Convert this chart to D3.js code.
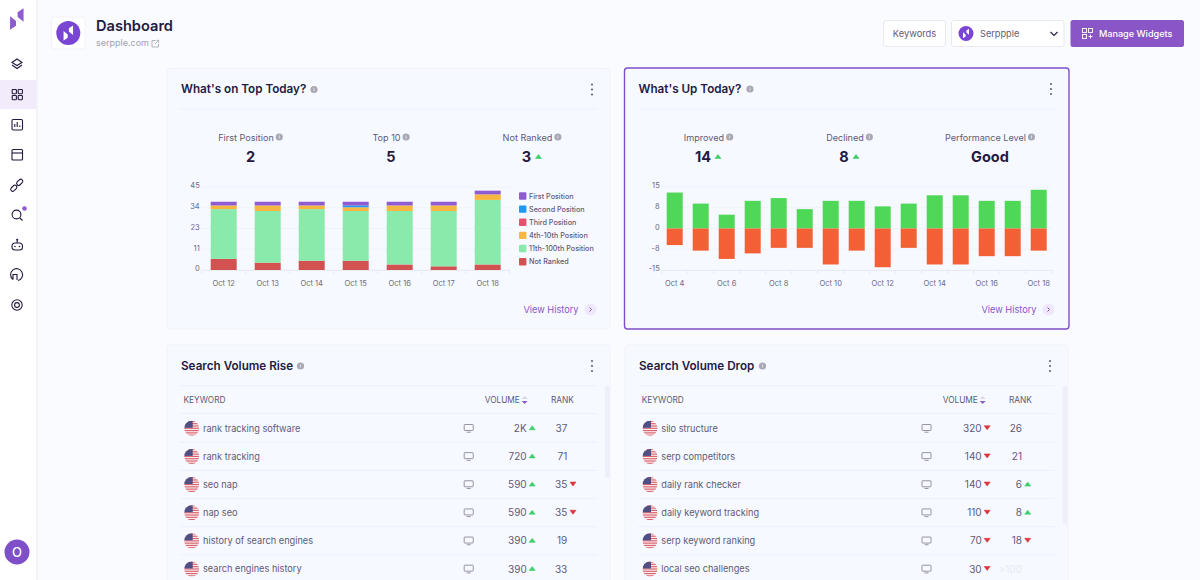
<!DOCTYPE html>
<html>
<head>
<meta charset="utf-8">
<script src="https://cdn.jsdelivr.net/npm/d3@7/dist/d3.min.js"></script>
<style>
html,body{margin:0;padding:0;background:#fafbff;overflow:hidden}
text{font-family:Inter,"Noto Sans",sans-serif}
</style>
</head>
<body>
<svg id="page" width="1200" height="580"></svg>
<script>
// chart data
var topDays=["Oct 12","Oct 13","Oct 14","Oct 15","Oct 16","Oct 17","Oct 18"];
var topTicks=[0,11.25,22.5,33.75,45];
var topTickLabels=["0","11","23","34","45"];
var topSeriesNames=["First Position","Second Position","Third Position","4th-10th Position","11th-100th Position","Not Ranked"];
var topColors=["#8e5bd0","#2196f3","#e8506e","#f7b63f","#8aeaac","#d25252"];
var firstPosition=[2,2,2,2,2,2,2];
var secondPosition=[0,0,0,1,0,0,0];
var thirdPosition=[0,0,0,0,0,0,0];
var fourthToTenth=[2,3,2,2,3,3,3];
var eleventhToHundredth=[27,28,28,27,29,30,35];
var notRanked=[6,4,5,5,3,2,3];

var upDays=["Oct 4","Oct 5","Oct 6","Oct 7","Oct 8","Oct 9","Oct 10","Oct 11","Oct 12","Oct 13","Oct 14","Oct 15","Oct 16","Oct 17","Oct 18"];
var upTicks=[-15,-7.5,0,7.5,15];
var upTickLabels=["-15","-8","0","8","15"];
var improved=[13,9,5,10,11,7,10,10,8,9,12,12,10,10,14];
var declined=[-6,-8,-11,-9,-7,-7,-13,-8,-14,-7,-13,-13,-10,-10,-8];

var topStats=[["First Position","2",""],["Top 10","5",""],["Not Ranked","3","up"]];
var upStats=[["Improved","14","up"],["Declined","8","up"],["Performance Level","Good",""]];

var riseKeywords=["rank tracking software","rank tracking","seo nap","nap seo","history of search engines","search engines history"];
var riseVolume=["2K","720","590","590","390","390"];
var riseVolumeDir=["up","up","up","up","up","up"];
var riseRank=["37","71","35","35","19","33"];
var riseRankDir=["","","down","down","",""];

var dropKeywords=["silo structure","serp competitors","daily rank checker","daily keyword tracking","serp keyword ranking","local seo challenges"];
var dropVolume=["320","140","140","110","70","30"];
var dropVolumeDir=["down","down","down","down","down","down"];
var dropRank=["26","21","6","8","18",">100"];
var dropRankDir=["","","up","up","down",""];

var dark="#25193f", body="#5f5a75", tickCol="#6d6980", purple="#8a55c7", lineCol="#eef1f8";
var svg=d3.select("#page");
var defs=svg.append("defs");

function label(g,x,y,str,size,col,weight,anchor){
    return g.append("text").attr("x",x).attr("y",y).text(str)
        .attr("font-size",size).attr("fill",col)
        .attr("font-weight",weight||400).attr("text-anchor",anchor||"start");
}
function tri(g,x,y,dir){
    var col=dir=="up"?"#3ecf6a":"#d9363e";
    var p=dir=="up"?[[x-3,y+2],[x+3,y+2],[x,y-2]]:[[x-3,y-2],[x+3,y-2],[x,y+2]];
    g.append("path").attr("d",d3.line()(p)+"Z").attr("fill",col).attr("stroke",col).attr("stroke-width",.6).attr("stroke-linejoin","round");
}
function info(g,x,y){
    g.append("circle").attr("cx",x).attr("cy",y).attr("r",3.6).attr("fill","#aaa9b3");
    g.append("rect").attr("x",x-.4).attr("y",y-1.6).attr("width",.8).attr("height",3.2).attr("fill","#e8e8ee");
}
function logoMark(g,cx,cy,s,col){
    g.append("path").attr("d","M"+(cx-5*s)+","+(cy-2*s)+"L"+(cx-.6*s)+","+(cy+1.5*s)+"L"+(cx-.6*s)+","+(cy+5*s)+"L"+(cx-5*s)+","+(cy+8*s)+"Z").attr("fill",col);
    g.append("path").attr("d","M"+(cx+5*s)+","+(cy+2*s)+"L"+(cx+.6*s)+","+(cy-1.5*s)+"L"+(cx+.6*s)+","+(cy-5*s)+"L"+(cx+5*s)+","+(cy-8*s)+"Z").attr("fill",col);
}

// sidebar
var side=svg.append("g");
side.append("rect").attr("width",36).attr("height",580).attr("fill","#fff");
side.append("rect").attr("x",36).attr("width",1.5).attr("height",580).attr("fill","#f0f2f8");
side.append("rect").attr("y",80).attr("width",36).attr("height",29).attr("fill","#f2ebfb");
logoMark(side,16.8,19,1.35,"#8e5bd0");
var ic=side.append("g").attr("fill","none").attr("stroke",dark).attr("stroke-width",1.1);
ic.append("path").attr("d","M17,59L22,62.5L17,65.5L12,62.5ZM12,65L17,68.5L22,65");
[[12.2,89.5],[18.2,89.5],[12.2,95.5],[18.2,95.5]].forEach(function(p){
    ic.append("rect").attr("x",p[0]).attr("y",p[1]).attr("width",4.2).attr("height",4.2).attr("rx",.6);
});
ic.append("rect").attr("x",12).attr("y",119.5).attr("width",10.5).attr("height",10.5).attr("rx",1.2);
ic.append("path").attr("d","M14.8,127V124M17.2,127V122M19.8,127V125.5");
ic.append("rect").attr("x",12).attr("y",149.5).attr("width",10.5).attr("height",10.5).attr("rx",1);
ic.append("path").attr("d","M12,153H22.5");
// link icon: two pills turned 45 degrees
ic.append("rect").attr("x",-5.5).attr("y",-2).attr("width",7).attr("height",4).attr("rx",2).attr("transform","translate(15.2,186.8) rotate(-45)");
ic.append("rect").attr("x",-1.5).attr("y",-2).attr("width",7).attr("height",4).attr("rx",2).attr("transform","translate(18.3,183.7) rotate(-45)");
ic.append("circle").attr("cx",16.5).attr("cy",214.5).attr("r",4.4);
ic.append("path").attr("d","M19.8,218L22.5,220.5");
side.append("circle").attr("cx",24.5).attr("cy",208.5).attr("r",2.3).attr("fill","#8e5bd0");
// robot
ic.append("rect").attr("x",12).attr("y",243).attr("width",10.5).attr("height",7).attr("rx",3.3);
ic.append("path").attr("d","M17.2,243V240.5");
side.append("circle").attr("cx",17.2).attr("cy",239.8).attr("r",1.1).attr("fill",dark);
side.append("circle").attr("cx",15).attr("cy",246.5).attr("r",.8).attr("fill",dark);
side.append("circle").attr("cx",19.5).attr("cy",246.5).attr("r",.8).attr("fill",dark);
ic.append("path").attr("d","M13,279.5A6,6 0 1 1 18,280.5M13,279.5V274.5H17V280");
ic.append("circle").attr("cx",17).attr("cy",305).attr("r",5.2);
ic.append("circle").attr("cx",17).attr("cy",305).attr("r",2.4);
side.append("circle").attr("cx",17).attr("cy",552).attr("r",12.5).attr("fill","#7f4fc9");
label(side,17,557,"O",13,"#fff",500,"middle");

// header
var head=svg.append("g");
head.append("rect").attr("x",51.5).attr("y",17).attr("width",33.5).attr("height",32).attr("rx",3).attr("fill","#fff").attr("stroke","#f1f2f8");
head.append("circle").attr("cx",68.3).attr("cy",33).attr("r",12).attr("fill","#7b45d3");
logoMark(head,68.3,33,.95,"#fff");
label(head,96,31,"Dashboard",14.6,dark,600);
label(head,96,46,"serpple.com",9,"#a2a2ae");
head.append("path").attr("d","M155.5,40.5H152V47H158.5V43.5M155,44L158.5,40.5M156.5,40.3H158.7V42.5").attr("fill","none").attr("stroke","#a2a2ae").attr("stroke-width",.8);
head.append("rect").attr("x",883.5).attr("y",20.5).attr("width",62).attr("height",26).attr("rx",2.5).attr("fill","#fff").attr("stroke","#e8e9f0");
label(head,914.5,36.5,"Keywords",9.3,body,400,"middle");
head.append("rect").attr("x",951.5).attr("y",20.5).attr("width",112.5).attr("height",26).attr("rx",2.5).attr("fill","#fff").attr("stroke","#e8e9f0");
head.append("circle").attr("cx",966).attr("cy",33.5).attr("r",7.5).attr("fill","#7b45d3");
logoMark(head,966,33.5,.6,"#fff");
label(head,980,36.5,"Serppple",9.2,body);
head.append("path").attr("d","M1050.5,32L1054,35.5L1057.5,32").attr("fill","none").attr("stroke",dark).attr("stroke-width",1.1);
head.append("rect").attr("x",1070.5).attr("y",20).attr("width",113.5).attr("height",27).attr("rx",2.5).attr("fill",purple);
var mw=head.append("g").attr("fill","none").attr("stroke","#fff").attr("stroke-width",.9);
[[1082.5,28.5],[1088.5,28.5],[1082.5,34.5]].forEach(function(p){
    mw.append("rect").attr("x",p[0]).attr("y",p[1]).attr("width",4).attr("height",4);
});
mw.append("path").attr("d","M1090.5,34.5V38.5M1088.5,36.5H1092.5");
label(head,1099,36.5,"Manage Widgets",9.1,"#fff",500);

function card(x,y,w,h,title,infoX,selected){
    var g=svg.append("g");
    g.append("rect").attr("x",x).attr("y",y).attr("width",w).attr("height",h).attr("rx",3)
        .attr("fill","#f6f9ff").attr("stroke",selected?"#7f4fc9":"#f1f3fa").attr("stroke-width",selected?1.4:1);
    label(g,x+14,y+24.5,title,11.7,dark,600);
    info(g,infoX,y+21);
    [-5,0,5].forEach(function(d){
        g.append("circle").attr("cx",x+w-18).attr("cy",y+21+d).attr("r",1.1).attr("fill","#6a6578");
    });
    return g;
}
function stats(g,list,xs){
    list.forEach(function(s,i){
        var t=label(g,xs[i]-4.5,140.5,s[0],9.1,body,400,"middle");
        var w=t.node().getComputedTextLength();
        info(g,xs[i]-4.5+w/2+5.5,137);
        var off=s[2]?-5.5:0;
        label(g,xs[i]+off,161.5,s[1],14.5,dark,700,"middle");
        if(s[2]) tri(g,xs[i]+off+(s[1].length>1?15:12),156.5,s[2]);
    });
}
function viewHistory(g,x){
    label(g,x,313,"View History",9.2,purple);
    g.append("circle").attr("cx",x+67).attr("cy",309.5).attr("r",6).attr("fill","#efe8fb");
    g.append("path").attr("d","M"+(x+66)+",307.5L"+(x+68)+",309.5L"+(x+66)+",311.5").attr("fill","none").attr("stroke",purple).attr("stroke-width",1);
}
function axes(g,x,y,ticks,labels,days,every){
    var grid=g.append("g");
    ticks.forEach(function(t){
        grid.append("line").attr("x1",x.range()[0]).attr("x2",x.range()[1])
            .attr("y1",y(t)).attr("y2",y(t)).attr("stroke","#f0f2f9");
    });
    var left=g.append("g").attr("transform","translate("+x.range()[0]+",0)")
        .call(d3.axisLeft(y).tickValues(ticks).tickSize(0).tickPadding(2).tickFormat(function(d,i){return labels[i];}));
    left.select(".domain").remove();
    left.selectAll("text").attr("font-size",7.5).attr("fill",tickCol).attr("font-family","Inter").attr("transform","translate(0,-1.5)");
    var bottom=g.append("g").attr("transform","translate(0,"+y.range()[0]+")")
        .call(d3.axisBottom(x).tickValues(days.filter(function(d,i){return i%every==0;})).tickSize(0).tickPadding(11));
    bottom.select(".domain").attr("stroke","#e8ebf3");
    bottom.selectAll("text").attr("font-size",7.5).attr("fill",tickCol).attr("font-family","Inter");
    // tick marks sit on the band edges
    d3.range(days.length+1).forEach(function(i){
        var px=x.range()[0]+x.step()*i;
        bottom.append("line").attr("x1",px).attr("x2",px).attr("y1",0).attr("y2",4).attr("stroke","#e8ebf3");
    });
}

// What's on Top Today
var c1=card(167,68.5,443,260.5,"What's on Top Today?",314,false);
c1.append("line").attr("x1",180).attr("x2",597).attr("y1",109).attr("y2",109).attr("stroke",lineCol);
stats(c1,topStats,[250.5,391,532]);
viewHistory(c1,523.5);

var topRows=topDays.map(function(d,i){
    return {day:d,"First Position":firstPosition[i],"Second Position":secondPosition[i],"Third Position":thirdPosition[i],
        "4th-10th Position":fourthToTenth[i],"11th-100th Position":eleventhToHundredth[i],"Not Ranked":notRanked[i]};
});
var x1=d3.scaleBand().domain(topDays).range([201.7,509.7]).paddingInner(18/44).paddingOuter(9/44);
var y1=d3.scaleLinear().domain([0,45]).range([270,187]);
axes(c1,x1,y1,topTicks,topTickLabels,topDays,1);
// stack from the bottom up, so reverse the legend order
var stacked=d3.stack().keys(topSeriesNames.slice().reverse())(topRows);
c1.selectAll("g.layer").data(stacked).enter().append("g").attr("class","layer")
    .attr("fill",function(d){return topColors[topSeriesNames.indexOf(d.key)];})
    .selectAll("rect").data(function(d){return d;}).enter().append("rect")
    .attr("x",function(d){return x1(d.data.day);})
    .attr("width",x1.bandwidth())
    .attr("y",function(d){return y1(d[1]);})
    .attr("height",function(d){return y1(d[0])-y1(d[1]);});

var legendY=d3.scalePoint().domain(topSeriesNames).range([196,261.7]);
topSeriesNames.forEach(function(n,i){
    c1.append("rect").attr("x",519).attr("y",legendY(n)-3.7).attr("width",7.4).attr("height",7.4).attr("rx",1).attr("fill",topColors[i]);
    label(c1,529,legendY(n)+2.6,n,7.2,body,500);
});

// What's Up Today
var c2=card(624.5,68,444.5,261,"What's Up Today?",750,true);
c2.append("line").attr("x1",638).attr("x2",1056).attr("y1",109).attr("y2",109).attr("stroke",lineCol);
stats(c2,upStats,[708.5,849.5,990]);
viewHistory(c2,981.5);

var x2=d3.scaleBand().domain(upDays).range([661.7,1051.7]).paddingInner(10/26).paddingOuter(5/26);
var y2=d3.scaleLinear().domain([-15,15]).range([270,187]);
axes(c2,x2,y2,upTicks,upTickLabels,upDays,2);
c2.append("g").selectAll("rect").data(improved).enter().append("rect")
    .attr("x",function(d,i){return x2(upDays[i]);}).attr("width",x2.bandwidth())
    .attr("y",function(d){return y2(d);}).attr("height",function(d){return y2(0)-y2(d);})
    .attr("fill","#4fd858");
c2.append("g").selectAll("rect").data(declined).enter().append("rect")
    .attr("x",function(d,i){return x2(upDays[i]);}).attr("width",x2.bandwidth())
    .attr("y",y2(0)).attr("height",function(d){return y2(d)-y2(0);})
    .attr("fill","#f46036");

// keyword tables
function flag(g,cx,cy,id){
    var r=7.5;
    defs.append("clipPath").attr("id",id).append("circle").attr("cx",cx).attr("cy",cy).attr("r",r);
    var f=g.append("g").attr("clip-path","url(#"+id+")");
    f.append("rect").attr("x",cx-r).attr("y",cy-r).attr("width",2*r).attr("height",2*r).attr("fill","#fbeeee");
    d3.range(7).forEach(function(i){
        f.append("rect").attr("x",cx-r).attr("y",cy-r+i*2.3).attr("width",2*r).attr("height",1.15).attr("fill","#d8626e");
    });
    f.append("rect").attr("x",cx-r).attr("y",cy-r).attr("width",r+1).attr("height",r-.5).attr("fill","#4f4f85");
}
function monitor(g,cx,cy){
    var m=g.append("g").attr("fill","none").attr("stroke","#8b8998").attr("stroke-width",.9);
    m.append("rect").attr("x",cx-4.5).attr("y",cy-3.8).attr("width",9).attr("height",6).attr("rx",.5);
    m.append("path").attr("d","M"+(cx-2)+","+(cy+3.9)+"H"+(cx+2));
}
function table(g,left,right,col,keywords,volume,volumeDir,rank,rankDir,tag,bar){
    var rowY=d3.scaleLinear().domain([0,5]).range([428.3,569]);
    g.append("line").attr("x1",left).attr("x2",right).attr("y1",385.7).attr("y2",385.7).attr("stroke",lineCol);
    g.append("line").attr("x1",left).attr("x2",right).attr("y1",413.5).attr("y2",413.5).attr("stroke",lineCol);
    label(g,left+3.5,403,"KEYWORD",8.3,body);
    label(g,col.vh,403,"VOLUME",8.3,body);
    g.append("path").attr("d",d3.line()([[col.vh+37,399],[col.vh+40,396],[col.vh+43,399]])+"Z").attr("fill","#d9d8e0");
    g.append("path").attr("d",d3.line()([[col.vh+37,401],[col.vh+40,404],[col.vh+43,401]])+"Z").attr("fill","#8e5bd0");
    label(g,col.rh,403,"RANK",8.3,body);
    g.append("rect").attr("x",bar[0]).attr("y",385.7).attr("width",5).attr("height",bar[1]).attr("rx",2).attr("fill","#edf0f7");
    keywords.forEach(function(k,i){
        var y=rowY(i);
        if(i<5) g.append("line").attr("x1",left).attr("x2",right).attr("y1",y+14).attr("y2",y+14).attr("stroke",lineCol);
        flag(g,left+11.7,y,tag+i);
        label(g,left+23,y+3.2,k,9.2,body);
        monitor(g,col.mon,y);
        label(g,col.vol,y+3.5,volume[i],10,body,400,"end");
        if(volumeDir[i]) tri(g,col.vol+5.5,y-.5,volumeDir[i]);
        label(g,col.rank,y+3.5,rank[i],10,rank[i]==">100"?"#e9ebf2":body,400,"end");
        if(rankDir[i]) tri(g,col.rank+5.7,y-.5,rankDir[i]);
    });
}
var c3=card(167,345,443,260,"Search Volume Rise",300.5,false);
table(c3,180,597,{vh:484.7,rh:551,mon:468.7,vol:526.7,rank:567.3},riseKeywords,riseVolume,riseVolumeDir,riseRank,riseRankDir,"fr",[605,92]);
var c4=card(625,345,443,260,"Search Volume Drop",762.5,false);
table(c4,638.3,1055,{vh:942.7,rh:1009,mon:926.5,vol:981.7,rank:1022},dropKeywords,dropVolume,dropVolumeDir,dropRank,dropRankDir,"fd",[1062.5,138]);
</script>
</body>
</html>
